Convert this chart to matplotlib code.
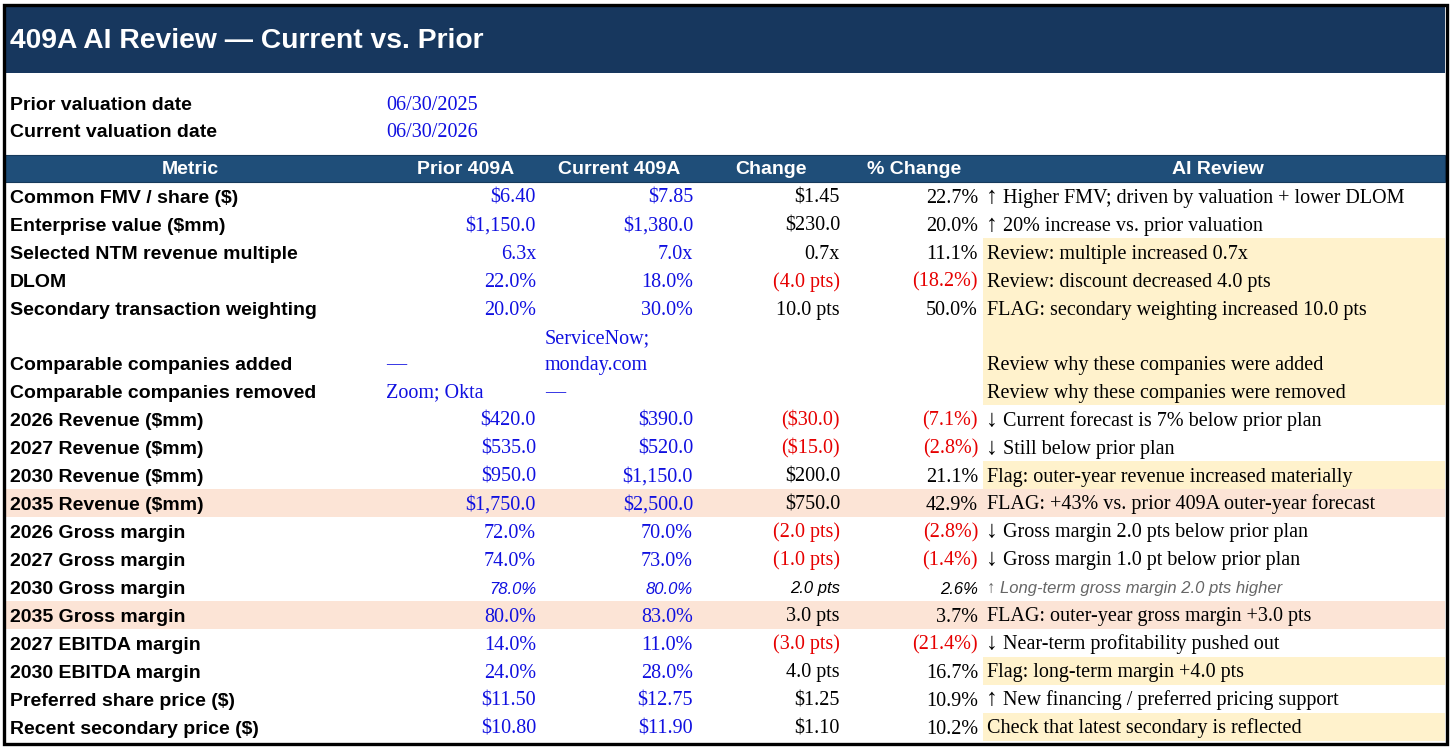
import matplotlib
matplotlib.use("Agg")
import matplotlib.pyplot as plt
from matplotlib.patches import Rectangle

# ---------------- data ----------------
title = "409A AI Review — Current vs. Prior"
date_labels = ["Prior valuation date", "Current valuation date"]
date_values = ["06/30/2025", "06/30/2026"]
headers = ["Metric", "Prior 409A", "Current 409A", "Change", "% Change", "AI Review"]

metrics = [
    "Common FMV / share ($)", "Enterprise value ($mm)", "Selected NTM revenue multiple",
    "DLOM", "Secondary transaction weighting", "Comparable companies added",
    "Comparable companies removed", "2026 Revenue ($mm)", "2027 Revenue ($mm)",
    "2030 Revenue ($mm)", "2035 Revenue ($mm)", "2026 Gross margin", "2027 Gross margin",
    "2030 Gross margin", "2035 Gross margin", "2027 EBITDA margin", "2030 EBITDA margin",
    "Preferred share price ($)", "Recent secondary price ($)",
]
prior = ["$6.40", "$1,150.0", "6.3x", "22.0%", "20.0%", "—", "Zoom; Okta",
         "$420.0", "$535.0", "$950.0", "$1,750.0", "72.0%", "74.0%", "78.0%",
         "80.0%", "14.0%", "24.0%", "$11.50", "$10.80"]
current = ["$7.85", "$1,380.0", "7.0x", "18.0%", "30.0%", "ServiceNow;\nmonday.com", "—",
           "$390.0", "$520.0", "$1,150.0", "$2,500.0", "70.0%", "73.0%", "80.0%",
           "83.0%", "11.0%", "28.0%", "$12.75", "$11.90"]
change = ["$1.45", "$230.0", "0.7x", "(4.0 pts)", "10.0 pts", "", "",
          "($30.0)", "($15.0)", "$200.0", "$750.0", "(2.0 pts)", "(1.0 pts)", "2.0 pts",
          "3.0 pts", "(3.0 pts)", "4.0 pts", "$1.25", "$1.10"]
pct_change = ["22.7%", "20.0%", "11.1%", "(18.2%)", "50.0%", "", "",
              "(7.1%)", "(2.8%)", "21.1%", "42.9%", "(2.8%)", "(1.4%)", "2.6%",
              "3.7%", "(21.4%)", "16.7%", "10.9%", "10.2%"]
ai_review = [
    "↑ Higher FMV; driven by valuation + lower DLOM",
    "↑ 20% increase vs. prior valuation",
    "Review: multiple increased 0.7x",
    "Review: discount decreased 4.0 pts",
    "FLAG: secondary weighting increased 10.0 pts",
    "Review why these companies were added",
    "Review why these companies were removed",
    "↓ Current forecast is 7% below prior plan",
    "↓ Still below prior plan",
    "Flag: outer-year revenue increased materially",
    "FLAG: +43% vs. prior 409A outer-year forecast",
    "↓ Gross margin 2.0 pts below prior plan",
    "↓ Gross margin 1.0 pt below prior plan",
    "↑ Long-term gross margin 2.0 pts higher",
    "FLAG: outer-year gross margin +3.0 pts",
    "↓ Near-term profitability pushed out",
    "Flag: long-term margin +4.0 pts",
    "↑ New financing / preferred pricing support",
    "Check that latest secondary is reflected",
]

# ---------------- styling ----------------
yellow_rows = {2, 3, 4, 5, 6, 9, 16, 18}
pink_rows = {10, 14}
italic_rows = {13}
tall_rows = {5}

NAVY = "#17375E"
HEAD = "#1F4E79"
YELLOW = "#FFF2CC"
PINK = "#FCE4D6"
BLUE = "#1010E0"
RED = "#E60000"
GREY = "#666666"
SANS = ["Liberation Sans", "DejaVu Sans"]
SERIF = ["Liberation Serif", "DejaVu Serif"]
ARROWS = "↑↓"

W, H = 1456, 753
fig = plt.figure(figsize=(W / 100, H / 100), dpi=100)
ax = fig.add_axes([0, 0, 1, 1])
ax.set_xlim(0, W)
ax.set_ylim(H, 0)
ax.axis("off")

L, R = 5, 1445
# column edges
col_edges = [L, 382, 541, 698, 845, 983, R]
pad = 5

# title bar
ax.add_patch(Rectangle((L, 7), R - L, 66, facecolor=NAVY, edgecolor="none"))
ax.text(10, 41, title, color="white", fontsize=20.3, fontweight="bold",
        family=SANS, va="center", ha="left")

# dates
for i, (lab, val) in enumerate(zip(date_labels, date_values)):
    yb = 110 + i * 27
    ax.text(10, yb, lab, fontsize=14, fontweight="bold", family=SANS,
            va="baseline", ha="left", color="black")
    ax.text(col_edges[1] + 4, yb, val, fontsize=14.5, family=SERIF,
            va="baseline", ha="left", color=BLUE)

# header
hy0, hy1 = 155, 182
ax.add_patch(Rectangle((L, hy0), R - L, hy1 - hy0, facecolor=HEAD,
                       edgecolor="#163A5C", linewidth=0.8))
for j, h in enumerate(headers):
    cx = (col_edges[j] + col_edges[j + 1]) / 2 + (4 if j in (1, 5) else 0)
    cx -= 3 if j == 0 else 0
    ax.text(cx, (hy0 + hy1) / 2 + 1, h, color="white", fontsize=14,
            fontweight="bold", family=SANS, va="center", ha="center")


def is_numeric(s):
    return len(s) > 0 and (s[0] in "$(" or s[0].isdigit())


def cell_text(s, j, ybot, italic=False):
    if not s:
        return
    lines = s.split("\n")
    n = len(lines)
    if italic:
        fam, fs, style = SANS, 12, "italic"
    else:
        fam, fs, style = SERIF, 14.5, "normal"
    if j in (1, 2):
        color = BLUE
    else:
        color = RED if s.startswith("(") else "black"
    if is_numeric(s):
        x, ha = col_edges[j + 1] - pad, "right"
    else:
        x, ha = col_edges[j] + 4, "left"
    for k, line in enumerate(lines):
        yb = ybot - 7.5 - (n - 1 - k) * 26
        ax.text(x, yb, line, fontsize=fs, family=fam, style=style,
                va="baseline", ha=ha, color=color)


y = hy1
for i, m in enumerate(metrics):
    h = 55 if i in tall_rows else 28
    ybot = y + h
    if i in pink_rows:
        ax.add_patch(Rectangle((L, y), R - L, h, facecolor=PINK, edgecolor="none"))
    if i in yellow_rows:
        ax.add_patch(Rectangle((col_edges[5], y), R - col_edges[5], h,
                               facecolor=YELLOW, edgecolor="none"))
    ax.text(10, ybot - 7.5, m, fontsize=14, fontweight="bold", family=SANS,
            va="baseline", ha="left", color="black")
    it = i in italic_rows
    cell_text(prior[i], 1, ybot, it)
    cell_text(current[i], 2, ybot, it)
    cell_text(change[i], 3, ybot, it)
    cell_text(pct_change[i], 4, ybot, it)
    txt = ai_review[i]
    x0 = col_edges[5] + 4
    if it:
        ax.text(x0, ybot - 7.5, txt, fontsize=12,
                family=SANS, style="italic", va="baseline", ha="left", color=GREY)
    elif txt[0] in ARROWS:
        ax.text(x0 + 5, ybot - 7.5, txt[0], fontsize=17, family=SERIF,
                va="baseline", ha="center", color="black")
        ax.text(x0 + 16, ybot - 7.5, txt[2:], fontsize=14.5,
                family=SERIF, va="baseline", ha="left", color="black")
    else:
        ax.text(x0, ybot - 7.5, txt, fontsize=14.5,
                family=SERIF, va="baseline", ha="left", color="black")
    y = ybot

# outer border
ax.add_patch(Rectangle((3.5, 5), 1443.5, 738.5, facecolor="none",
                       edgecolor="black", linewidth=2.4))

fig.savefig("out.png", dpi=100, facecolor="white")
